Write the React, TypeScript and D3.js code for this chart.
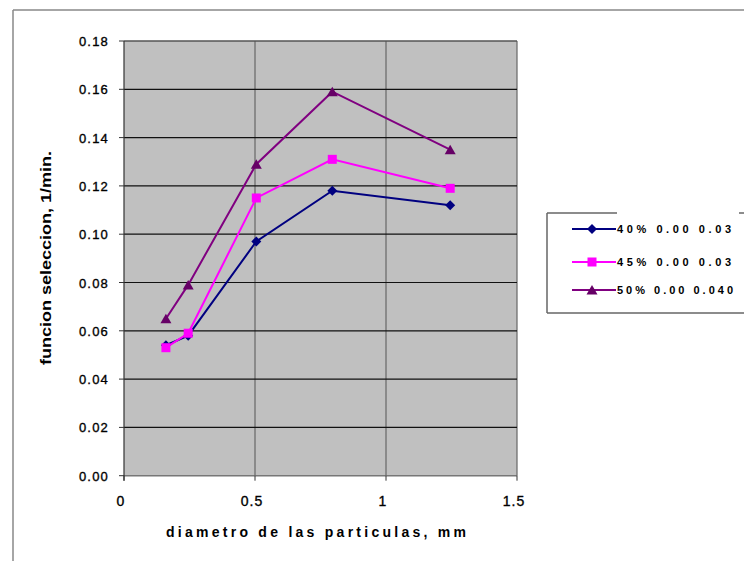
import React from "react";
import * as d3 from "d3";

const xValues = [0.16, 0.245, 0.505, 0.795, 1.245];
const series40 = [0.054, 0.058, 0.097, 0.118, 0.112];
const series45 = [0.053, 0.059, 0.115, 0.131, 0.119];
const series50 = [0.065, 0.079, 0.129, 0.159, 0.135];
const seriesNames = ["40% 0.00 0.03", "45% 0.00 0.03", "50% 0.00 0.040"];
const seriesColors = ["#000080", "#ff00ff", "#800080"];
const markerColors = ["#000080", "#ff00ff", "#660066"];
const markerTypes = ["diamond", "square", "triangle"];
const yTicks = [0, 0.02, 0.04, 0.06, 0.08, 0.1, 0.12, 0.14, 0.16, 0.18];
const xTicks = [0, 0.5, 1, 1.5];
const xTickLabels = ["0", "0.5", "1", "1.5"];

const W = 744, H = 561;
const left = 124, right = 517, top = 41, bottom = 475.7;

export default function App() {
  const x = d3.scaleLinear().domain([0, 1.5]).range([left, right]);
  const y = d3.scaleLinear().domain([0, 0.18]).range([bottom, top]);
  const allSeries = [series40, series45, series50];
  const line = d3.line<number>().x((_, i) => x(xValues[i])).y((d) => y(d));

  const marker = (type: string, cx: number, cy: number, color: string, key: string) => {
    if (type === "diamond") {
      return <path key={key} d={`M${cx},${cy - 5}L${cx + 5},${cy}L${cx},${cy + 5}L${cx - 5},${cy}Z`} fill={color} />;
    }
    if (type === "square") {
      return <rect key={key} x={cx - 4.5} y={cy - 4.5} width={9} height={9} fill={color} />;
    }
    return <path key={key} d={`M${cx},${cy - 5}L${cx + 5.5},${cy + 4.5}L${cx - 5.5},${cy + 4.5}Z`} fill={color} />;
  };

  const legendY = [229, 262, 290];
  const legendLen = [114, 114, 116];

  return (
    <svg width={W} height={H} style={{ position: "absolute", left: 0, top: 0, background: "#fff" }}
      fontFamily="Arial, 'Liberation Sans', sans-serif">
      {/* outer border */}
      <line x1={13} y1={10} x2={W} y2={10} stroke="#888" strokeWidth={1.5} />
      <line x1={13} y1={10} x2={13} y2={H} stroke="#888" strokeWidth={1.5} />

      {/* plot area */}
      <rect x={left} y={top} width={right - left} height={bottom - top} fill="#c0c0c0" />
      {xTicks.slice(1).map((t) => (
        <line key={"vx" + t} x1={x(t)} x2={x(t)} y1={top} y2={bottom} stroke="#666" strokeWidth={1.2} />
      ))}
      {yTicks.map((t) => (
        <line key={"hy" + t} x1={left} x2={right} y1={y(t)} y2={y(t)} stroke={t === 0 ? "#777" : "#111"} strokeWidth={t === 0 ? 1.5 : 1.2} />
      ))}
      <line x1={left} x2={right} y1={top} y2={top} stroke="#777" strokeWidth={1} />
      {/* y axis */}
      <line x1={left} x2={left} y1={top} y2={bottom + 5} stroke="#333" strokeWidth={1.2} />
      {yTicks.map((t) => (
        <g key={"yt" + t}>
          <line x1={left - 5} x2={left} y1={y(t)} y2={y(t)} stroke="#333" strokeWidth={1} />
          <text x={109} y={y(t) + 5} textAnchor="end" fontSize={13} letterSpacing={1.2} fill="#000" stroke="#000" strokeWidth={0.35}>{t.toFixed(2)}</text>
        </g>
      ))}
      {xTicks.map((t, i) => (
        <g key={"xt" + t}>
          <line x1={x(t)} x2={x(t)} y1={bottom} y2={bottom + 5} stroke="#333" strokeWidth={1} />
          <text x={x(t) - 3} y={506} textAnchor="middle" fontSize={14} letterSpacing={1} fill="#000" stroke="#000" strokeWidth={0.35}>{xTickLabels[i]}</text>
        </g>
      ))}

      {/* series */}
      {allSeries.map((s, si) => (
        <g key={"s" + si}>
          <path d={line(s) || ""} fill="none" stroke={seriesColors[si]} strokeWidth={2} />
          {s.map((v, i) => marker(markerTypes[si], x(xValues[i]), y(v), markerColors[si], `m${si}-${i}`))}
        </g>
      ))}

      {/* axis titles */}
      <text transform="translate(51,258) rotate(-90)" textAnchor="middle" fontSize={15} fontWeight="bold" fill="#000"
        textLength={214} lengthAdjust="spacingAndGlyphs">
        funcion seleccion, 1/min.
      </text>
      <text x={166} y={537} fontSize={14} fontWeight="bold" fill="#000" textLength={300} lengthAdjust="spacing">
        diametro de las particulas, mm
      </text>

      {/* legend */}
      <rect x={547} y={213} width={210} height={100} fill="#fff" stroke="none" />
      <line x1={547} y1={213} x2={617} y2={213} stroke="#666" strokeWidth={1.5} />
      <line x1={739} y1={213} x2={744} y2={213} stroke="#666" strokeWidth={1.5} />
      <line x1={547} y1={213} x2={547} y2={313} stroke="#666" strokeWidth={1.5} />
      <line x1={547} y1={313} x2={744} y2={313} stroke="#666" strokeWidth={1.5} />
      {seriesNames.map((n, i) => (
        <g key={"lg" + i}>
          <line x1={572} x2={616} y1={legendY[i]} y2={legendY[i]} stroke={seriesColors[i]} strokeWidth={2} />
          {marker(markerTypes[i], 592, legendY[i], markerColors[i], "lm" + i)}
          <text x={617} y={legendY[i] + 4} fontSize={11} fontWeight="bold" fill="#000"
            textLength={legendLen[i]} lengthAdjust="spacing">{n}</text>
        </g>
      ))}
    </svg>
  );
}
